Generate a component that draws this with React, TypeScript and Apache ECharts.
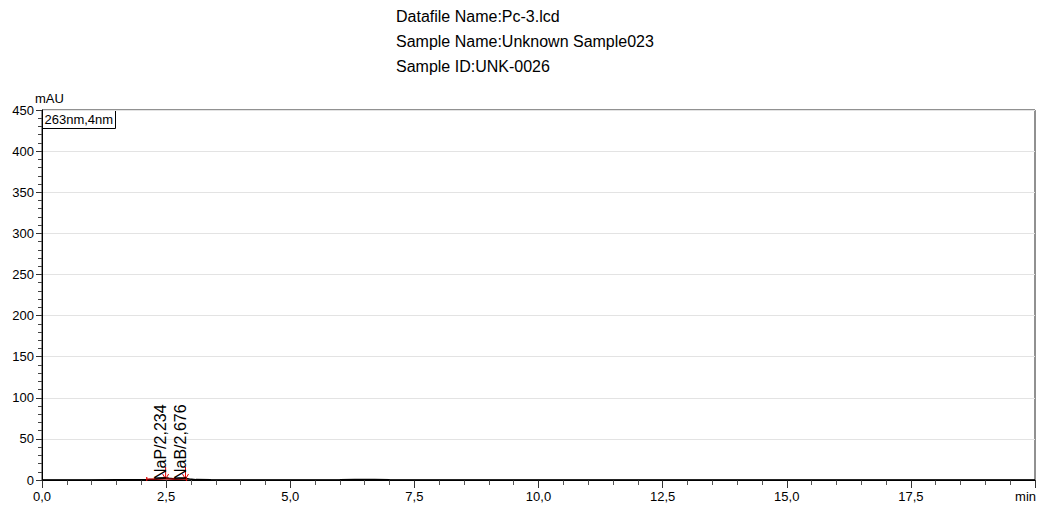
import React, { useEffect, useRef } from "react";
import * as echarts from "echarts";

const headerLines = [
  "Datafile Name:Pc-3.lcd",
  "Sample Name:Unknown Sample023",
  "Sample ID:UNK-0026",
];
const channelLabel = "263nm,4nm";
const yUnit = "mAU";
const xUnit = "min";

// chromatogram trace [time (min), absorbance (mAU)]
const traceTimes = [0, 0.5, 1.0, 1.5, 2.0, 2.15, 2.3, 2.42, 2.49, 2.56, 2.68, 2.8, 2.89, 2.97, 3.1, 3.4, 4.0, 5.0, 6.0, 6.3, 6.5, 6.7, 7.0, 8.0, 10.0, 12.0, 14.0, 16.0, 18.0, 20.0];
const traceValues = [0, 0, 0, 0.1, 0.2, 0.4, 0.9, 2.0, 2.6, 2.0, 1.1, 1.4, 1.9, 1.2, 0.4, 0.1, 0, 0, 0.1, 0.4, 0.6, 0.4, 0.1, 0, 0, 0, 0, 0, 0, 0];

// peak annotations
const peakNames = ["NaP", "NaB"];
const peakLabels = ["2,234", "2,676"];
const peakPositions = [2.49, 2.89];
// integration baseline [start, end] (min)
const baselineStart = [2.11];
const baselineEnd = [2.91];

const FONT = "'Liberation Sans', Arial, Helvetica, sans-serif";

export default function App() {
  const ref = useRef<HTMLDivElement>(null);

  useEffect(() => {
    if (!ref.current) return;
    const chart = echarts.init(ref.current, null, { renderer: "svg" });

    const trace = traceTimes.map((t, i) => [t, traceValues[i]]);
    const peaks = peakPositions.map((x, i) => [x, 0, i]);
    const baselines = baselineStart.map((s, i) => [s, baselineEnd[i]]);

    const fmt = (v: number) => (v >= 20 ? "" : v.toFixed(1).replace(".", ","));

    chart.setOption({
      animation: false,
      grid: {
        left: 42,
        right: 6,
        top: 110,
        bottom: 30,
        show: true,
        borderColor: "#222",
        borderWidth: 1,
        backgroundColor: "transparent",
      },
      xAxis: {
        type: "value",
        min: 0,
        max: 20,
        interval: 2.5,
        axisLine: { lineStyle: { color: "#000", width: 1 } },
        axisTick: { show: true, length: 8, lineStyle: { color: "#333" } },
        minorTick: { show: true, splitNumber: 5, length: 5, lineStyle: { color: "#555" } },
        splitLine: { show: false },
        axisLabel: {
          formatter: fmt,
          color: "#000",
          fontSize: 13,
          fontFamily: FONT,
          margin: 10,
          showMaxLabel: false,
        },
      },
      yAxis: {
        type: "value",
        min: 0,
        max: 450,
        interval: 50,
        axisLine: { show: true, lineStyle: { color: "#000", width: 1 } },
        axisTick: { show: true, length: 6, lineStyle: { color: "#333" } },
        minorTick: { show: true, splitNumber: 5, length: 4, lineStyle: { color: "#444" } },
        splitLine: { show: true, lineStyle: { color: "#e3e3e3", width: 1 } },
        axisLabel: { color: "#000", fontSize: 13, fontFamily: FONT, margin: 8 },
      },
      graphic: [
        ...headerLines.map((t, i) => ({
          type: "text",
          left: 396,
          top: 8 + i * 25,
          style: { text: t, fontSize: 16, fontFamily: FONT, fill: "#000" },
        })),
        {
          type: "text",
          left: 35,
          top: 92,
          style: { text: yUnit, fontSize: 13, fontFamily: FONT, fill: "#000" },
        },
        {
          type: "text",
          right: 5,
          top: 490,
          style: { text: xUnit, fontSize: 13, fontFamily: FONT, fill: "#000" },
        },
        {
          type: "group",
          left: 42,
          top: 110,
          children: [
            {
              type: "rect",
              shape: { x: 0, y: 0, width: 73, height: 18 },
              style: { fill: "#fff", stroke: "#000", lineWidth: 1 },
            },
            {
              type: "text",
              x: 2,
              y: 9,
              style: {
                text: channelLabel,
                fontSize: 13,
                fontFamily: FONT,
                fill: "#000",
                verticalAlign: "middle",
              },
            },
          ],
        },
      ],
      series: [
        {
          type: "line",
          data: trace,
          showSymbol: false,
          lineStyle: { color: "#000", width: 1.6 },
          z: 3,
        },
        {
          type: "custom",
          data: baselines,
          z: 4,
          renderItem: (params: any, api: any) => {
            const a = api.coord([api.value(0), 0]);
            const b = api.coord([api.value(1), 0]);
            const y = a[1] - 1;
            const st = { stroke: "#e00000", lineWidth: 1.2 };
            return {
              type: "group",
              children: [
                { type: "line", shape: { x1: a[0], y1: y, x2: b[0], y2: y }, style: st },
                { type: "line", shape: { x1: a[0], y1: y - 2, x2: a[0], y2: y + 2 }, style: st },
                { type: "line", shape: { x1: b[0], y1: y - 2, x2: b[0], y2: y + 2 }, style: st },
              ],
            };
          },
        },
        {
          type: "custom",
          data: peaks,
          z: 5,
          renderItem: (params: any, api: any) => {
            const p = api.coord([api.value(0), api.value(1)]);
            const idx = api.value(2);
            const x = p[0];
            const y = p[1] - 1;
            const st = { stroke: "#e00000", lineWidth: 1 };
            return {
              type: "group",
              children: [
                { type: "line", shape: { x1: x, y1: y - 12, x2: x, y2: y }, style: st },
                {
                  type: "polyline",
                  shape: { points: [[x - 3, y - 5], [x, y], [x + 3, y - 5]] },
                  style: { ...st, fill: "none" },
                },
                {
                  type: "text",
                  x: x - 5,
                  y: y + 1,
                  rotation: Math.PI / 2,
                  style: {
                    text: peakNames[idx] + "/" + peakLabels[idx],
                    fontSize: 16,
                    fontFamily: FONT,
                    fill: "#000",
                    align: "left",
                    verticalAlign: "middle",
                  },
                },
              ],
            };
          },
        },
      ],
    });

    return () => chart.dispose();
  }, []);

  return (
    <div
      ref={ref}
      style={{ position: "fixed", left: 0, top: 0, width: 1041, height: 510, background: "#fff" }}
    />
  );
}
